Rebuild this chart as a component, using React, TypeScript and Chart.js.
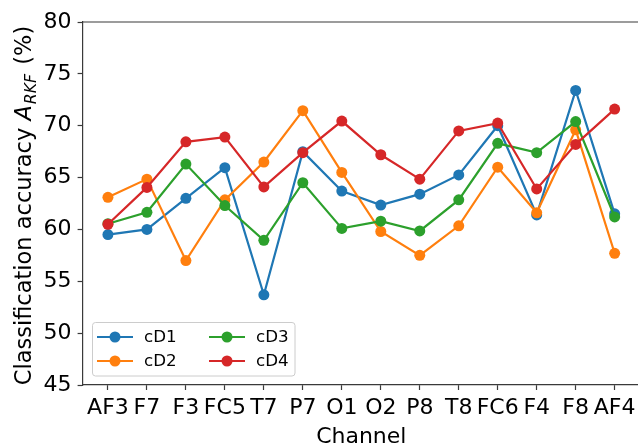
import React, { useEffect, useRef } from "react";
import { Chart, registerables } from "chart.js";

Chart.register(...registerables);

const channels = ["AF3", "F7", "F3", "FC5", "T7", "P7", "O1", "O2", "P8", "T8", "FC6", "F4", "F8", "AF4"];
const cD1 = [59.5, 60.0, 63.0, 65.95, 53.7, 67.5, 63.7, 62.35, 63.4, 65.25, 70.0, 61.4, 73.4, 61.5];
const cD2 = [63.1, 64.85, 57.0, 62.85, 66.5, 71.45, 65.5, 59.8, 57.5, 60.35, 66.0, 61.6, 69.6, 57.7];
const cD3 = [60.55, 61.65, 66.3, 62.3, 58.95, 64.5, 60.1, 60.8, 59.85, 62.85, 68.3, 67.4, 70.4, 61.2];
const cD4 = [60.5, 64.05, 68.45, 68.9, 64.1, 67.4, 70.45, 67.2, 64.85, 69.5, 70.25, 63.9, 68.2, 71.6];
const seriesNames = ["cD1", "cD2", "cD3", "cD4"];
const seriesColors = ["#1f77b4", "#ff7f0e", "#2ca02c", "#d62728"];
const yTicks = { min: 45, max: 80, step: 5 };
const xTitle = "Channel";

const FONT = '"DejaVu Sans", sans-serif';
const SPINE = "#3a3a3a";

const framePlugin = {
  id: "frame",
  beforeDatasetsDraw(chart: any) {
    const { ctx, chartArea } = chart;
    ctx.save();
    ctx.strokeStyle = SPINE;
    ctx.lineWidth = 1.2;
    ctx.beginPath();
    ctx.moveTo(chartArea.left, chartArea.top);
    ctx.lineTo(chartArea.right, chartArea.top);
    ctx.lineTo(chartArea.right, chartArea.bottom);
    ctx.stroke();
    ctx.restore();
  },
};

const legendPlugin = {
  id: "mplLegend",
  afterDatasetsDraw(chart: any) {
    const ctx = chart.ctx;
    ctx.save();
    ctx.beginPath();
    (ctx as any).roundRect(92.5, 322.5, 202.5, 53.5, 3);
    ctx.fillStyle = "rgba(255,255,255,0.8)";
    ctx.fill();
    ctx.strokeStyle = "#cccccc";
    ctx.lineWidth = 1;
    ctx.stroke();
    chart.data.datasets.forEach((ds: any, i: number) => {
      const col = Math.floor(i / 2);
      const row = i % 2;
      const lx = 97 + col * 112;
      const ly = 337 + row * 24;
      ctx.strokeStyle = ds.borderColor;
      ctx.lineWidth = 2.2;
      ctx.beginPath();
      ctx.moveTo(lx, ly);
      ctx.lineTo(lx + 36, ly);
      ctx.stroke();
      ctx.fillStyle = ds.borderColor;
      ctx.beginPath();
      ctx.arc(lx + 18, ly, 5.5, 0, Math.PI * 2);
      ctx.fill();
      ctx.fillStyle = "#000";
      ctx.font = `16.7px ${FONT}`;
      ctx.textBaseline = "middle";
      ctx.textAlign = "left";
      ctx.fillText(ds.label, lx + 47, ly + 1);
    });
    ctx.restore();
  },
};

const titlesPlugin = {
  id: "titles",
  afterDraw(chart: any) {
    const { ctx, chartArea } = chart;
    ctx.save();
    ctx.fillStyle = "#000";
    // x title
    ctx.font = `22px ${FONT}`;
    ctx.textAlign = "center";
    ctx.textBaseline = "alphabetic";
    ctx.fillText(xTitle, (chartArea.left + chartArea.right) / 2, 443);
    // y title with subscript
    const segs = [
      { t: "Classification accuracy ", f: `22.5px ${FONT}`, dy: 0, gap: 0 },
      { t: "A", f: `italic 22.5px ${FONT}`, dy: 0, gap: 1 },
      { t: "RKF", f: `italic 15.75px ${FONT}`, dy: 4.6, gap: 2 },
      { t: " (%)", f: `22.5px ${FONT}`, dy: 0, gap: 0 },
    ];
    let total = 0;
    const widths = segs.map((s) => {
      ctx.font = s.f;
      const w = ctx.measureText(s.t).width + s.gap;
      total += w;
      return w;
    });
    ctx.translate(31, 205.5);
    ctx.rotate(-Math.PI / 2);
    ctx.textAlign = "left";
    let x = -total / 2;
    segs.forEach((s, i) => {
      ctx.font = s.f;
      ctx.fillText(s.t, x, s.dy);
      x += widths[i];
    });
    ctx.restore();
  },
};

export default function App() {
  const ref = useRef<HTMLCanvasElement | null>(null);
  useEffect(() => {
    if (!ref.current) return;
    Chart.defaults.font.family = FONT;
    Chart.defaults.color = "#000";
    const data = [cD1, cD2, cD3, cD4];
    const chart = new Chart(ref.current, {
      type: "line",
      data: {
        datasets: data.map((arr, i) => ({
          label: seriesNames[i],
          data: arr.map((v, j) => ({ x: j, y: v })),
          borderColor: seriesColors[i],
          backgroundColor: seriesColors[i],
          pointBackgroundColor: seriesColors[i],
          pointBorderWidth: 0,
          pointRadius: 5.5,
          borderWidth: 2.2,
          tension: 0,
          order: 4 - i,
        })),
      },
      options: {
        responsive: false,
        animation: false,
        events: [],
        layout: { padding: { left: 0, top: 22, right: 20, bottom: 0 } },
        plugins: { legend: { display: false }, tooltip: { enabled: false } },
        scales: {
          x: {
            type: "linear",
            min: -0.65,
            max: channels.length - 1 + 0.65,
            afterBuildTicks: (scale: any) => {
              scale.ticks = channels.map((_, i) => ({ value: i }));
            },
            afterFit: (scale: any) => {
              scale.height = 61;
            },
            ticks: {
              autoSkip: false,
              maxRotation: 0,
              minRotation: 0,
              padding: 5,
              font: { size: 22 },
              color: "#000",
              callback: (v: any) => channels[Math.round(v)] ?? "",
            },
            grid: { drawOnChartArea: false, drawTicks: true, tickLength: 5, tickColor: SPINE, tickWidth: 1.2 },
            border: { display: true, color: SPINE, width: 1.2 },
          },
          y: {
            min: yTicks.min,
            max: yTicks.max,
            afterFit: (scale: any) => {
              scale.width = 82.6;
            },
            ticks: { stepSize: yTicks.step, padding: 6, font: { size: 22 }, color: "#000" },
            grid: { drawOnChartArea: false, drawTicks: true, tickLength: 5, tickColor: SPINE, tickWidth: 1.2 },
            border: { display: true, color: SPINE, width: 1.2 },
          },
        },
      },
      plugins: [framePlugin, legendPlugin, titlesPlugin],
    } as any);
    return () => chart.destroy();
  }, []);
  return (
    <div style={{ position: "fixed", left: 0, top: 0, width: 638, height: 446, overflow: "hidden", background: "#fff" }}>
      <canvas ref={ref} width={660} height={446} style={{ width: 660, height: 446, display: "block" }} />
    </div>
  );
}
